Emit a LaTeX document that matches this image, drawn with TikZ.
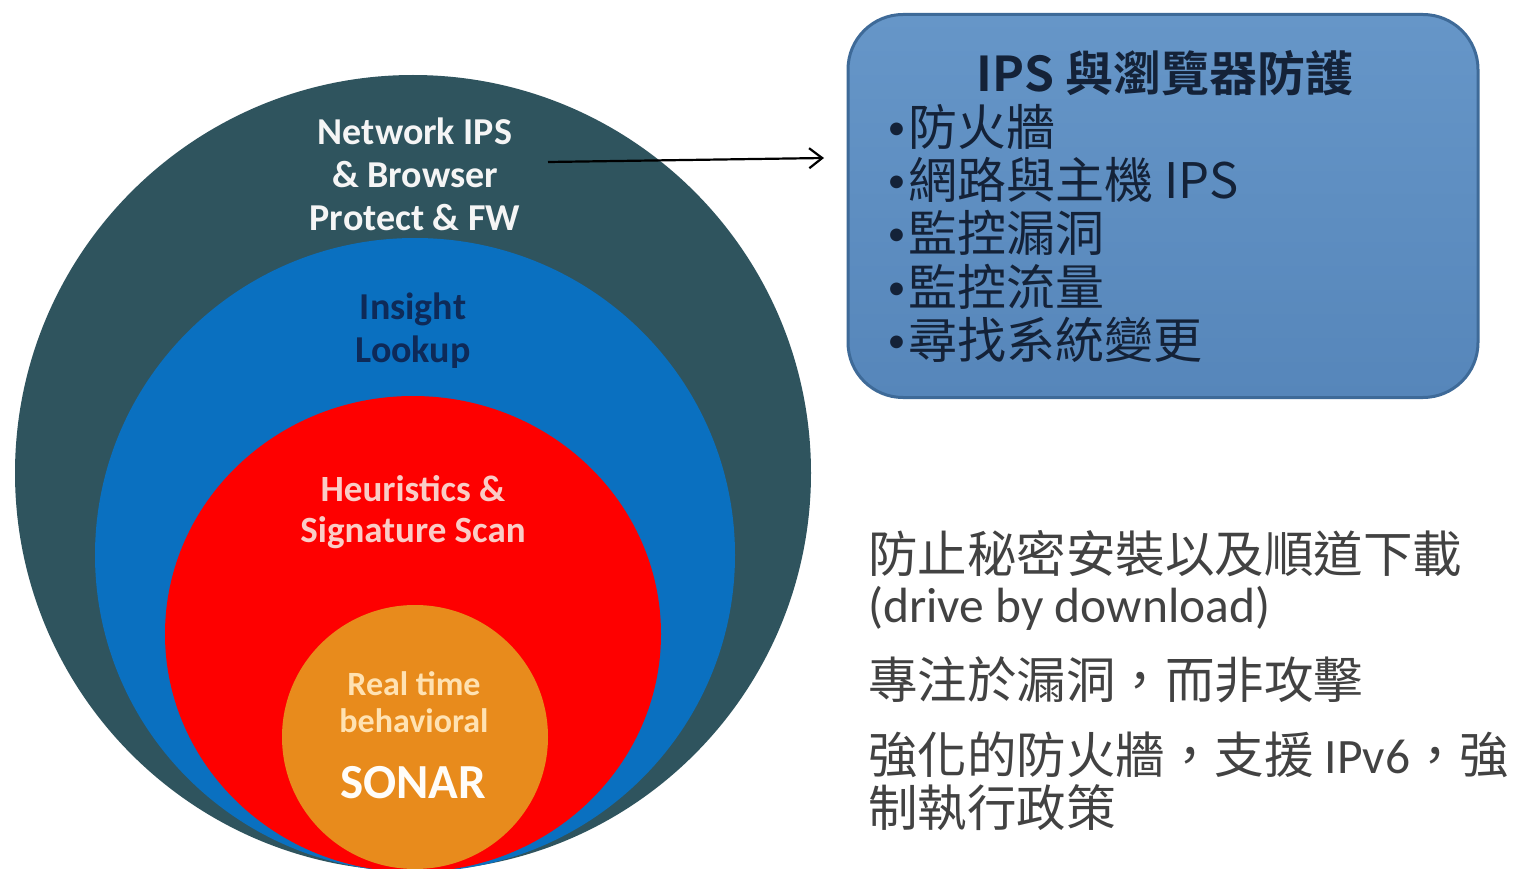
\documentclass[tikz,border=0pt]{standalone}
\usepackage{fontspec}
\setmainfont{Carlito}
\newfontfamily\cjk{Noto Sans CJK TC}
\newfontfamily\cjkb{Noto Sans CJK TC Bold}
\newcommand\bul{\makebox[23pt][c]{\raisebox{6pt}{\rmfamily\fontsize{36}{36}\selectfont •}}}
\newcommand\lat[1]{{\rmfamily #1}}
\usetikzlibrary{arrows.meta}
\definecolor{cOuter}{RGB}{47,84,94}
\definecolor{cBlue}{RGB}{10,112,192}
\definecolor{cRed}{RGB}{254,0,0}
\definecolor{cOrange}{RGB}{232,139,28}
\definecolor{boxTop}{RGB}{102,150,200}
\definecolor{boxBot}{RGB}{86,134,186}
\definecolor{boxLine}{RGB}{62,106,152}
\definecolor{boxText}{RGB}{20,34,56}
\definecolor{navyText}{RGB}{14,42,88}
\definecolor{pinkText}{RGB}{250,204,198}
\definecolor{creamText}{RGB}{255,226,178}
\definecolor{greyText}{RGB}{66,66,66}
\tikzset{
  lbl/.style={align=center, inner sep=0pt, font=\fontsize{38}{43}\selectfont\bfseries},
  infobox/.style={draw=boxLine, line width=3pt, rounded corners=55pt,
    top color=boxTop, bottom color=boxBot, minimum width=630pt, minimum height=383pt, inner sep=0pt},
  boxhead/.style={inner sep=0pt, text=boxText, font=\cjkb\fontsize{48}{53}\selectfont},
  boxlist/.style={inner sep=0pt, text=boxText, align=left, anchor=west, font=\cjk\fontsize{49}{53.3}\selectfont},
  side/.style={inner sep=0pt, text=greyText, align=left, anchor=west},
  arr/.style={line width=2.2pt, -{Straight Barb[length=13pt,width=20pt,line width=2.2pt]}}
}
\begin{document}
\begin{tikzpicture}[x=1pt,y=-1pt]
\useasboundingbox (0,0) rectangle (1519,869);
\fill[white] (0,0) rectangle (1519,869);
\clip (0,0) rectangle (1519,869);
% nested discs, all touching near the bottom edge
\fill[cOuter] (413,473) ellipse[x radius=398pt, y radius=398pt];
\fill[cBlue] (415,555) ellipse[x radius=320pt, y radius=317pt];
\fill[cRed] (413,634) ellipse[x radius=248pt, y radius=238pt];
\fill[cOrange] (415,737) ellipse[x radius=133pt, y radius=132pt];
% disc labels
\node[lbl, text=white!96!black] (net) at (415,174) {Network IPS\\\& Browser\\Protect \& FW};
\node[lbl, text=navyText] (insight) at (413,331) {Insight\\Lookup};
\node[lbl, text=pinkText, font=\fontsize{37}{41}\selectfont\bfseries] (heur) at (413,512) {Heuristics \&\\Signature Scan};
\node[lbl, text=creamText, font=\fontsize{34}{37}\selectfont\bfseries] (real) at (414,702) {Real time\\behavioral};
\node[lbl, text=white!92!creamText, font=\fontsize{49}{52}\selectfont\bfseries] (sonar) at (413,783) {SONAR};
% info box
\node[infobox] (box) at (1163,206) {};
\node[boxhead] (head) at (1165,73) {IPS 與瀏覽器防護};
\node[boxlist] (list) at (885,233.5) {\bul 防火牆\\\bul 網路與主機 IPS\\\bul 監控漏洞\\\bul 監控流量\\\bul 尋找系統變更};
% arrow
\coordinate (aS) at (548,162);
\coordinate (aE) at (824,158);
\draw[arr] (aS) -- (aE);
% side text
\node[side, font=\cjk\fontsize{49.5}{50}\selectfont] (p1) at (868,580) {防止秘密安裝以及順道下載\\\lat{(drive by download)}};
\node[side, font=\cjk\fontsize{49.5}{53}\selectfont] (p2) at (868,680) {專注於漏洞，而非攻擊};
\node[side, font=\cjk\fontsize{49.5}{53}\selectfont] (p3) at (868,781) {強化的防火牆，支援\lat{ IPv6}，強\\制執行政策};
\end{tikzpicture}
\end{document}
